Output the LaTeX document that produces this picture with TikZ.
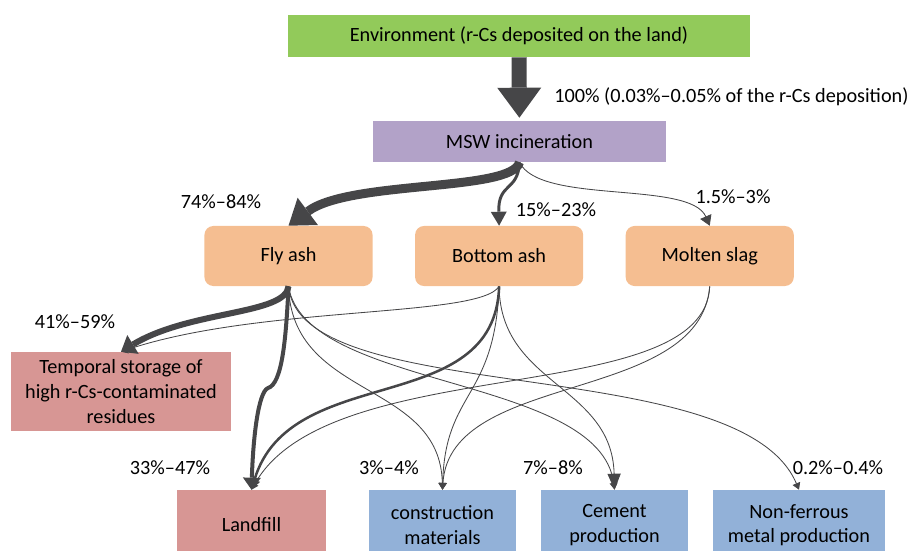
\documentclass[tikz,border=0pt]{standalone}
\usepackage{fontspec}
\setmainfont{Carlito}
\usepackage{tikz}
\usetikzlibrary{arrows.meta, positioning}
\definecolor{envgreen}{RGB}{146,202,90}
\definecolor{mswpurple}{RGB}{178,162,200}
\definecolor{ashorange}{RGB}{245,190,145}
\definecolor{dumpred}{RGB}{215,150,148}
\definecolor{reuseblue}{RGB}{146,177,216}
\definecolor{flowgray}{RGB}{70,70,72}
\tikzstyle{block} = [rectangle, minimum height=1.5cm, inner sep=0pt, align=center, text=black]
\tikzstyle{ashbox} = [block, rounded corners=0.22cm, minimum width=4.2cm, fill=ashorange]
\tikzstyle{endbox} = [block, minimum height=1.75cm]
\tikzstyle{pct} = [inner sep=0pt]
\tikzstyle{flow} = [draw=flowgray, line width=0.6pt, -{Triangle[width=0.2cm, length=0.17cm]}]

\begin{document}
\begin{tikzpicture}[x=0.025cm, y=-0.025cm, every node/.style={font=\fontsize{14.4}{17.5}\selectfont}]
  \useasboundingbox (0,0) rectangle (920,551);

  \node[block, fill=envgreen, minimum width=11.55cm, minimum height=1.05cm] (env) at (519,36) {Environment (r-Cs deposited on the land)};
  \node[block, fill=mswpurple, minimum width=7.325cm, minimum height=1.025cm] (msw) at (519.5,141.5) {MSW incineration};
  \node[ashbox] (fly) at (288.5,256) {Fly ash};
  \node[ashbox, right=1.05cm of fly] (bottom) {Bottom ash};
  \node[ashbox, right=1.05cm of bottom] (slag) {Molten slag};

  \node[block, fill=dumpred, minimum width=5.5cm, minimum height=1.975cm] (storage) at (121,391.5) {Temporal storage of\\high r-Cs-contaminated\\residues};
  \node[endbox, fill=dumpred, minimum width=3.7cm] (landfill) at (251.5,525) {Landfill};
  \node[endbox, fill=reuseblue, minimum width=3.675cm] (constr) at (442.5,525) {construction\\materials};
  \node[endbox, fill=reuseblue, minimum width=3.675cm] (cement) at (614.5,525) {Cement\\production};
  \node[endbox, fill=reuseblue, minimum width=4.3cm] (metal) at (799,525) {Non-ferrous\\metal production};

  % incineration
  \draw[flow, line width=0.375cm, -{Triangle[width=1.1cm, length=0.75cm, line width=0pt]}, shorten >=0.075cm] (env) -- (msw);
  \draw[flow, line width=6.4pt, -{Triangle[width=0.85cm, length=0.6cm, line width=0pt]}] (msw.south) .. controls (512,192) and (350,180) .. (fly.north);
  \draw[flow, line width=2.1pt, -{Triangle[width=0.4cm, length=0.35cm, line width=0pt]}] (msw.south) .. controls (518,192) and (498,182) .. (bottom.north);
  \draw[flow, -{Triangle[width=0.3cm, length=0.25cm]}] (msw.south) .. controls (540,205) and (690,180) .. (slag.north);

  % residues
  \draw[flow] (bottom.south) .. controls (480,318) and (260,305) .. (storage.north);
  \draw[flow, line width=4.3pt, -{Triangle[width=0.55cm, length=0.35cm, line width=0pt]}] (fly.south) .. controls (286,315) and (190,310) .. (storage.north);
  \draw[flow, line width=2.85pt, -{Triangle[width=0.45cm, length=0.3cm, line width=0pt]}] (fly.south) .. controls (286,340) and (282,384) .. (268,388) .. controls (258,392) and (253,440) .. (landfill.north);
  \draw[flow, line width=1.8pt, -{Triangle[width=0.3cm, length=0.25cm, line width=0pt]}] (bottom.south) .. controls (495,420) and (290,360) .. (landfill.north);
  \draw[flow] (slag.south) .. controls (705,410) and (330,350) .. (landfill.north);
  \draw[flow] (fly.south) .. controls (292,400) and (440,380) .. (constr.north);
  \draw[flow] (bottom.south) .. controls (495,400) and (445,390) .. (constr.north);
  \draw[flow] (slag.south) .. controls (700,405) and (450,370) .. (constr.north);
  \draw[flow] (fly.south) .. controls (305,390) and (600,375) .. (cement.north);
  \draw[flow, -{Triangle[width=0.33cm, length=0.4cm]}] (bottom.south) .. controls (500,385) and (612,385) .. (cement.north);
  \draw[flow] (fly.south) .. controls (300,410) and (740,350) .. (metal.north);

  % shares
  \node[pct, anchor=west] (l100) at (554,97) {100\% (0.03\%--0.05\% of the r-Cs deposition)};
  \node[pct] (l7484) at (221,202) {74\%--84\%};
  \node[pct] (l1523) at (556,210) {15\%--23\%};
  \node[pct] (l153) at (733,197) {1.5\%--3\%};
  \node[pct] (l4159) at (75,322) {41\%--59\%};
  \node[pct] (l3347) at (170,468) {33\%--47\%};
  \node[pct] (l34) at (389,468) {3\%--4\%};
  \node[pct] (l78) at (553,468) {7\%--8\%};
  \node[pct] (l0204) at (838,468) {0.2\%--0.4\%};
\end{tikzpicture}
\end{document}
